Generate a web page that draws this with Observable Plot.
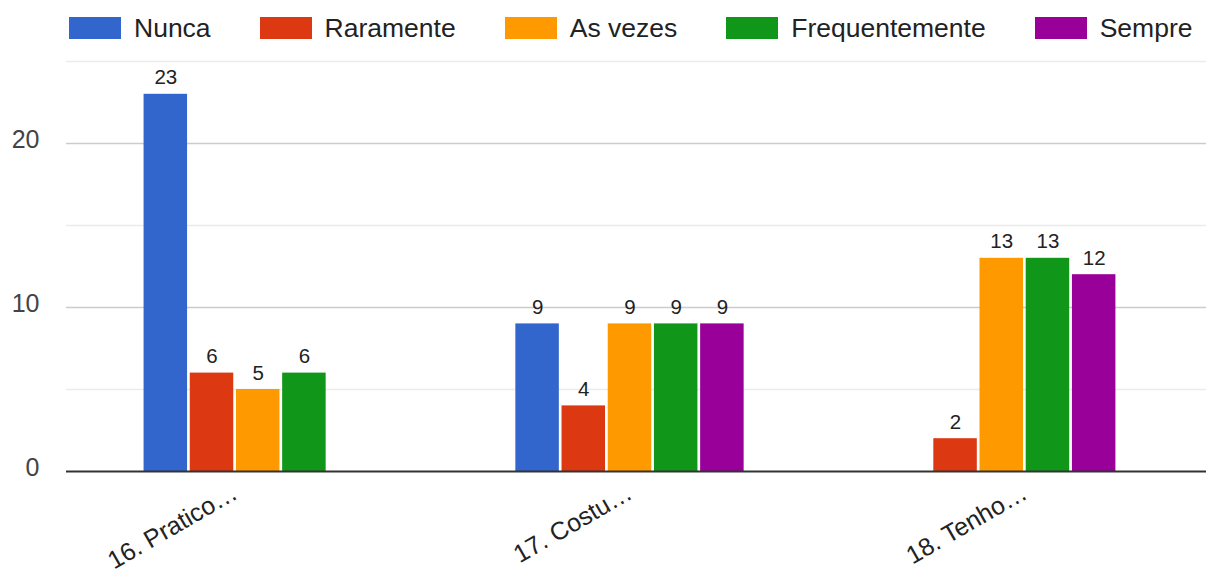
<!DOCTYPE html>
<html>
<head>
<meta charset="utf-8">
<script src="https://cdn.jsdelivr.net/npm/d3@7"></script>
<script src="https://cdn.jsdelivr.net/npm/@observablehq/plot@0.6"></script>
<style>
  html, body { margin: 0; padding: 0; background: #fff; }
  body { width: 1208px; height: 572px; overflow: hidden; font-family: "Liberation Sans", Arial, sans-serif; }
  #legend { height: 50px; display: flex; align-items: center; padding-left: 69px; box-sizing: border-box; padding-top: 6px; white-space: nowrap; }
  .item { display: flex; align-items: center; flex: none; margin-right: 49px; font-size: 26.5px; color: #222; white-space: nowrap; }
  .sw { width: 52px; height: 22px; margin-right: 13px; flex: none; }
  svg { display: block; }
</style>
</head>
<body>
<div id="legend"></div>
<div id="chart"></div>
<script>
// ---- data ----
const groups = ["16. Pratico…", "17. Costu…", "18. Tenho…"];
const series = ["Nunca", "Raramente", "As vezes", "Frequentemente", "Sempre"];
const colors = ["#3366cc", "#dc3912", "#ff9900", "#109618", "#990099"];
const nunca          = [23, 9, null];
const raramente      = [6, 4, 2];
const asVezes        = [5, 9, 13];
const frequentemente = [6, 9, 13];
const sempre         = [null, 9, 12];
const yTicks = [0, 10, 20];
const yGridMinor = [5, 15, 25];

// ---- build table (only present series are laid out in each group) ----
const values = [nunca, raramente, asVezes, frequentemente, sempre];
const slot = 0.117; // band width per bar, in group units
const rows = [];
groups.forEach((g, gi) => {
  const present = series.map((s, si) => ({s, si, v: values[si][gi]})).filter(d => d.v != null);
  const n = present.length;
  present.forEach((d, k) => {
    const x1 = gi + (k - n / 2) * slot;
    rows.push({group: g, gi, series: d.s, value: d.v, x1, x2: x1 + slot, xc: x1 + slot / 2});
  });
});

// ---- legend ----
const legend = document.getElementById("legend");
series.forEach((s, i) => {
  const it = document.createElement("div");
  it.className = "item";
  it.innerHTML = `<div class="sw" style="background:${colors[i]}"></div><span>${s}</span>`;
  legend.appendChild(it);
});

// ---- chart ----
const chart = Plot.plot({
  width: 1208,
  height: 522,
  marginLeft: 66,
  marginRight: 2,
  marginTop: 11,
  marginBottom: 101,
  style: {fontFamily: '"Liberation Sans", Arial, sans-serif', background: "#fff", overflow: "visible"},
  x: {type: "linear", domain: [-0.427, 2.46], axis: null},
  y: {domain: [0, 25], axis: null},
  color: {domain: series, range: colors},
  marks: [
    Plot.ruleY(yGridMinor, {stroke: "#ebebeb", strokeWidth: 1.5}),
    Plot.ruleY(yTicks.filter(t => t !== 0), {stroke: "#cccccc", strokeWidth: 1.5}),
    Plot.axisY(yTicks, {tickSize: 0, tickPadding: 27, fontSize: 25, fill: "#444", dy: -4, label: null}),
    Plot.rectY(rows, {x1: "x1", x2: "x2", y: "value", fill: "series", insetLeft: 1.35, insetRight: 1.35}),
    Plot.ruleY([0], {stroke: "#333", strokeWidth: 2}),
    Plot.text(rows, {x: "xc", y: "value", text: d => String(d.value), lineAnchor: "bottom", dy: -10, fontSize: 20.5, fill: "#222"}),
    Plot.text(groups, {x: (d, i) => i, text: d => d, frameAnchor: "bottom", textAnchor: "end", lineAnchor: "bottom", rotate: -30, dx: 4, dy: 26, fontSize: 25, fill: "#222"})
  ]
});
document.getElementById("chart").appendChild(chart);
</script>
</body>
</html>
